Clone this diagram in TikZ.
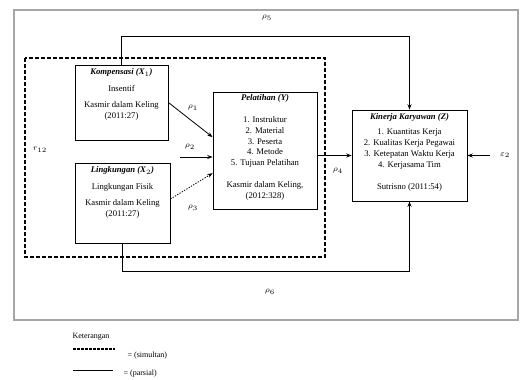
\documentclass[tikz,border=0pt]{standalone}
\usepackage{fontspec}
\setmainfont{Liberation Serif}
\usetikzlibrary{arrows.meta, positioning}

\begin{document}
\begin{tikzpicture}[x=0.75pt, y=-0.75pt,
        box/.style={draw, rectangle, line width=0.6pt, inner sep=0pt},
        txt/.style={align=center, font=\fontsize{6.5}{8.2}\selectfont, inner sep=0pt},
        lbl/.style={font=\fontsize{6}{7}\selectfont, inner sep=1pt},
        arr/.style={-{Stealth[length=4pt,width=3pt]}, line width=0.6pt},
        node distance=0pt
    ]
        \useasboundingbox (0,0) rectangle (521,379);
        \draw[gray!70, line width=0.8pt] (14,10) rectangle (518,320);
        \draw[line width=1pt, dash pattern=on 3pt off 1.5pt] (25,58) rectangle (325,257);

        % variabel bebas
        \node[box, minimum width=69.75pt, minimum height=56.25pt] (x1) at (121.5,102.5) {};
        \node[txt, below=3pt of x1.north] (x1t) {\textbf{\textit{Kompensasi (X$_1$)}}\\[4pt] Insentif\\[4pt] Kasmir dalam Keling\\ (2011:27)};
        \node[box, minimum width=71.25pt, minimum height=60pt] (x2) at (122.5,203) {};
        \node[txt, below=3pt of x2.north] (x2t) {\textbf{\textit{Lingkungan (X$_2$)}}\\[4pt] Lingkungan Fisik\\[4pt] Kasmir dalam Keling\\ (2011:27)};

        % intervening dan terikat
        \node[box, minimum width=78pt, minimum height=87.75pt] (y) at (265,150.5) {};
        \node[txt, below=2pt of y.north] (yt) {\textbf{\textit{Pelatihan (Y)}}\\[8pt] 1. Instruktur\\ 2. Material\\ 3. Peserta\\ 4. Metode\\ 5. Tujuan Pelatihan\\[8pt] Kasmir dalam Keling,\\ (2012:328)};
        \node[box, minimum width=86.25pt, minimum height=68.25pt] (z) at (409.5,155.5) {};
        \node[txt, below=3pt of z.north] (zt) {\textbf{\textit{Kinerja Karyawan (Z)}}\\[3pt] 1. Kuantitas Kerja\\ 2. Kualitas Kerja Pegawai\\ 3. Ketepatan Waktu Kerja\\ 4. Kerjasama Tim\\[8pt] Sutrisno (2011:54)};

        % jalur
        \coordinate (mid) at (180,157);
        \coordinate (e) at (490,155.5);
        \draw[arr] (x1.east) -- ([yshift=10pt]y.west);
        \draw[arr] (mid) -- (mid -| y.west);
        \draw[arr, dash pattern=on 1pt off 1pt] ([yshift=3pt]x2.east) -- ([yshift=-17pt]y.west);
        \draw[arr] (y.east |- z.west) -- (z.west);
        \draw[arr] (x1.north) -- ++(0,-28) -| (z.north);
        \draw[arr] (x2.south) -- ++(0,28) -| (z.south);
        \draw[arr] (e) -- (z.east);

        \node[lbl] (p1) at (193,108) {$\rho_1$};
        \node[lbl] (p2) at (190,147) {$\rho_2$};
        \node[lbl] (p3) at (193,208) {$\rho_3$};
        \node[lbl] (p4) at (338,171) {$\rho_4$};
        \node[lbl] (p5) at (267,18) {$\rho_5$};
        \node[lbl] (p6) at (270,292) {$\rho_6$};
        \node[lbl] (eps) at (505,155.5) {$\varepsilon_2$};
        \node[lbl] (r) at (40,150) {$r_{12}$};

        % keterangan
        \node[lbl, anchor=west] (ket) at (71,337) {Keterangan};
        \draw[line width=0.8pt, dash pattern=on 2pt off 1pt] (73,349) -- (115,349);
        \node[lbl, anchor=west] (sim) at (126,356) {= (simultan)};
        \draw[line width=0.6pt] (73,370) -- (113,370);
        \node[lbl, anchor=west] (par) at (122,374) {= (parsial)};
    \end{tikzpicture}
\end{document}
